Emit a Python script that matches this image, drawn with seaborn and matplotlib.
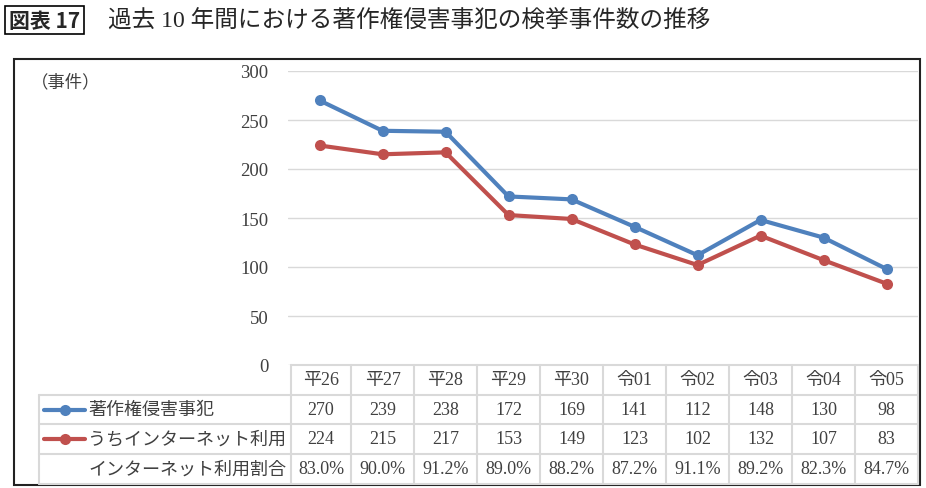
import numpy as np
import pandas as pd
import seaborn as sns
import matplotlib.pyplot as plt
from matplotlib.lines import Line2D
from matplotlib.patches import Rectangle

sns.set_style("white")
plt.rcParams['font.family'] = ['Liberation Serif', 'Noto Sans CJK JP', 'DejaVu Sans']

# data
years = ["平26", "平27", "平28", "平29", "平30", "令01", "令02", "令03", "令04", "令05"]
total = [270, 239, 238, 172, 169, 141, 112, 148, 130, 98]
internet = [224, 215, 217, 153, 149, 123, 102, 132, 107, 83]
ratio = [83.0, 90.0, 91.2, 89.0, 88.2, 87.2, 91.1, 89.2, 82.3, 84.7]
series_names = ["著作権侵害事犯", "うちインターネット利用"]
ratio_name = "インターネット利用割合"
colors = ["#4F81BD", "#C0504D"]

df = pd.DataFrame({
    "idx": list(range(len(years))) * 2,
    "count": total + internet,
    "series": [series_names[0]] * len(years) + [series_names[1]] * len(years),
})

W, H = 926, 489
fig = plt.figure(figsize=(W / 100, H / 100), dpi=100)

def fx(x):
    return x / W

def fy(y):
    return 1 - y / H

# plot area
ax = fig.add_axes([fx(288), fy(366), fx(918) - fx(288), fy(72) - fy(366)])
sns.lineplot(data=df, x="idx", y="count", hue="series", hue_order=series_names,
             palette=colors, marker="o", markersize=8, markeredgewidth=0,
             linewidth=3, legend=False, ax=ax)
ax.set_xlim(-0.5, len(years) - 0.5)
ax.set_ylim(0, 300)
ax.set_yticks(np.arange(0, 301, 50))
ax.set_xticks([])
ax.set_xlabel("")
ax.set_ylabel("")
ax.yaxis.grid(True, color="#d9d9d9", linewidth=1)
ax.set_axisbelow(True)
for s in ax.spines.values():
    s.set_visible(False)
ax.tick_params(axis="y", length=0, pad=14, labelsize=13.5, labelcolor="#404040")

# data table below the plot
grid_c = "#d9d9d9"
text_c = "#404040"
fs = 13
rows_y = [366, 396, 425, 455, 485]
col_edges = [ax.transData.transform((i - 0.5, 0))[0] for i in range(len(years) + 1)]
col_edges[0] = 291
label_left = 39

# horizontal lines
fig.add_artist(Line2D([fx(col_edges[0]), fx(col_edges[-1])], [fy(rows_y[0])] * 2, color=grid_c, lw=1.5))
for y in rows_y[1:]:
    fig.add_artist(Line2D([fx(label_left), fx(col_edges[-1])], [fy(y)] * 2, color=grid_c, lw=1.5))
# vertical lines
for x in col_edges:
    fig.add_artist(Line2D([fx(x)] * 2, [fy(rows_y[0]), fy(rows_y[-1])], color=grid_c, lw=1.5))
fig.add_artist(Line2D([fx(label_left)] * 2, [fy(rows_y[1]), fy(rows_y[-1])], color=grid_c, lw=1.5))

row_vals = [years, [str(v) for v in total], [str(v) for v in internet], [f"{v:.1f}%" for v in ratio]]
for r, vals in enumerate(row_vals):
    yc = (rows_y[r] + rows_y[r + 1]) / 2
    for i, v in enumerate(vals):
        xc = (col_edges[i] + col_edges[i + 1]) / 2
        fig.text(fx(xc), fy(yc), v, ha="center", va="center", fontsize=fs, color=text_c)

# row labels with legend keys
for r, (name, c) in enumerate(zip(series_names, colors)):
    yc = (rows_y[r + 1] + rows_y[r + 2]) / 2
    fig.add_artist(Line2D([fx(44), fx(85)], [fy(yc)] * 2, color=c, lw=3))
    fig.add_artist(Line2D([fx(64.5)], [fy(yc)], color=c, marker="o", markersize=8, markeredgewidth=0))
    fig.text(fx(88), fy(yc), name, ha="left", va="center", fontsize=fs, color=text_c)
yc = (rows_y[3] + rows_y[4]) / 2
fig.text(fx(88), fy(yc), ratio_name, ha="left", va="center", fontsize=fs, color=text_c)

# unit label
fig.text(fx(31), fy(83), "（事件）", ha="left", va="center", fontsize=12.5, color=text_c)

# outer frame
fig.add_artist(Rectangle((fx(14), fy(486)), fx(920) - fx(14), fy(60) - fy(486),
                         fill=False, edgecolor="#222222", lw=1.5))

# title
fig.text(fx(9), fy(21), "図表 17", ha="left", va="center", fontsize=15, fontweight="bold",
         family=["Noto Sans CJK JP"],
         bbox=dict(boxstyle="square,pad=0.18", fc="white", ec="black", lw=1.2))
fig.text(fx(108), fy(21), "過去 10 年間における著作権侵害事犯の検挙事件数の推移", ha="left", va="center",
         fontsize=17)

plt.savefig("out.png", dpi=100)
